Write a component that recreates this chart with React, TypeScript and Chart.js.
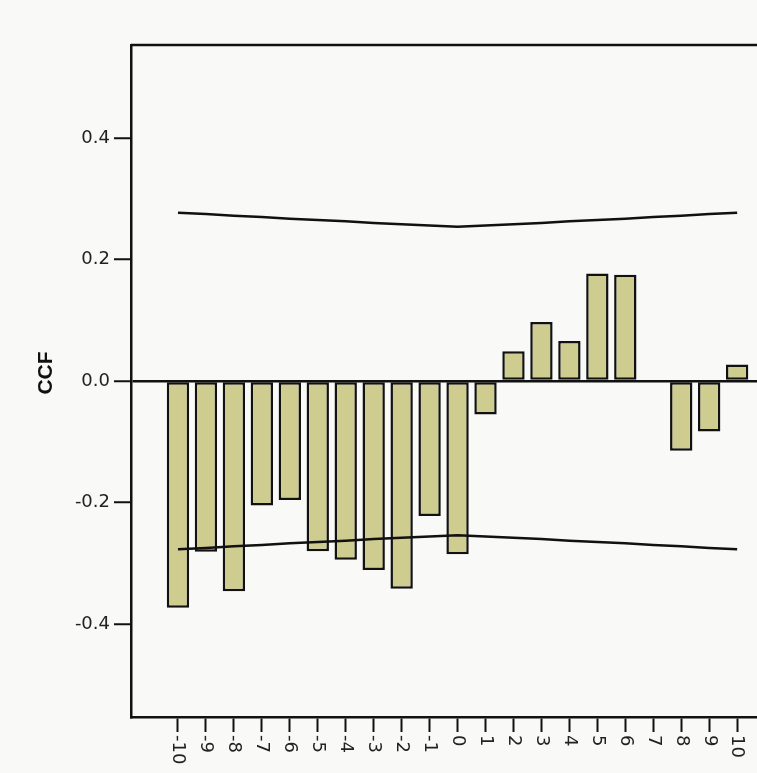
import { useEffect, useRef } from "react"
import { Chart, registerables } from "chart.js"

Chart.register(...registerables)

// lags shown on the x axis
const lags = [-10, -9, -8, -7, -6, -5, -4, -3, -2, -1, 0, 1, 2, 3, 4, 5, 6, 7, 8, 9, 10]
// cross-correlation coefficients
const ccfValues = [
  -0.373, -0.281, -0.346, -0.205, -0.196, -0.28, -0.294, -0.311, -0.342, -0.222, -0.285,
  -0.055, 0.049, 0.097, 0.066, 0.177, 0.175, 0.0, -0.115, -0.083, 0.027,
]
// confidence limits (upper / lower)
const upperLimit = [
  0.277, 0.275, 0.272, 0.27, 0.267, 0.265, 0.263, 0.26, 0.258, 0.256, 0.254,
  0.256, 0.258, 0.26, 0.263, 0.265, 0.267, 0.27, 0.272, 0.275, 0.277,
]
const lowerLimit = [
  -0.277, -0.275, -0.272, -0.27, -0.267, -0.265, -0.263, -0.26, -0.258, -0.256, -0.254,
  -0.256, -0.258, -0.26, -0.263, -0.265, -0.267, -0.27, -0.272, -0.275, -0.277,
]
const yTicks = [-0.4, -0.2, 0, 0.2, 0.4]

const labelFont = '18px "DejaVu Sans", sans-serif'

// frame top line, CCF title and x labels rotated clockwise, as in the original
const framePlugin = {
  id: "frame",
  afterDraw(chart: Chart) {
    const { ctx, chartArea } = chart
    const xScale = chart.scales.x
    ctx.save()
    ctx.strokeStyle = "#111"
    ctx.lineWidth = 2.5
    ctx.beginPath()
    ctx.moveTo(chartArea.left, chartArea.top)
    ctx.lineTo(chartArea.right, chartArea.top)
    ctx.stroke()

    ctx.fillStyle = "#222"
    ctx.font = labelFont
    ctx.textAlign = "left"
    ctx.textBaseline = "middle"
    lags.forEach((lag) => {
      const x = xScale.getPixelForValue(lag)
      ctx.save()
      ctx.translate(x, xScale.top + 18)
      ctx.rotate(Math.PI / 2)
      ctx.fillText(String(lag), 0, 0)
      ctx.restore()
    })

    ctx.save()
    ctx.translate(46, 373)
    ctx.rotate(-Math.PI / 2)
    ctx.font = 'bold 21px "Liberation Sans", Arial, sans-serif'
    ctx.fillStyle = "#111"
    ctx.textAlign = "center"
    ctx.fillText("CCF", 0, 0)
    ctx.restore()
    ctx.restore()
  },
}

export default function App() {
  const chartRef = useRef<HTMLCanvasElement>(null)
  const chartInstance = useRef<Chart | null>(null)

  useEffect(() => {
    if (!chartRef.current) return
    if (chartInstance.current) chartInstance.current.destroy()
    const ctx = chartRef.current.getContext("2d")
    if (!ctx) return

    chartInstance.current = new Chart(ctx, {
      type: "bar",
      data: {
        datasets: [
          {
            type: "line",
            label: "Upper limit",
            data: lags.map((x, i) => ({ x, y: upperLimit[i] })),
            borderColor: "#111",
            borderWidth: 2.5,
            pointRadius: 0,
            tension: 0,
            order: 0,
          },
          {
            type: "line",
            label: "Lower limit",
            data: lags.map((x, i) => ({ x, y: lowerLimit[i] })),
            borderColor: "#111",
            borderWidth: 2.5,
            pointRadius: 0,
            tension: 0,
            order: 0,
          },
          {
            type: "bar",
            label: "Coefficient",
            data: lags.map((x, i) => ({ x, y: ccfValues[i] })),
            backgroundColor: "#cfcc90",
            borderColor: "#111",
            borderWidth: 2.5,
            borderSkipped: false,
            barPercentage: 0.8,
            categoryPercentage: 1,
            order: 1,
          },
        ],
      },
      options: {
        responsive: true,
        maintainAspectRatio: false,
        animation: false,
        layout: { padding: { top: 45, right: 0, bottom: 0, left: 0 } },
        plugins: {
          legend: { display: false },
          tooltip: { enabled: false },
        },
        scales: {
          x: {
            type: "linear",
            min: -11.68,
            max: 10.71,
            offset: false,
            afterBuildTicks: (scale: any) => {
              scale.ticks = lags.map((v) => ({ value: v }))
            },
            afterFit: (scale: any) => {
              scale.height = 56
            },
            ticks: { display: false },
            grid: {
              offset: false,
              drawOnChartArea: false,
              drawTicks: true,
              tickLength: 15,
              tickColor: "#111",
              tickWidth: 2,
            },
            border: { display: true, color: "#111", width: 2.5 },
          },
          y: {
            min: -0.553,
            max: 0.553,
            afterBuildTicks: (scale: any) => {
              scale.ticks = yTicks.map((v) => ({ value: v }))
            },
            afterFit: (scale: any) => {
              scale.width = 131
            },
            ticks: {
              color: "#222",
              padding: 4,
              font: { family: '"DejaVu Sans", sans-serif', size: 18 },
              callback: (v: any) => Number(v).toFixed(1),
            },
            grid: {
              drawTicks: true,
              tickLength: 17,
              tickColor: "#111",
              tickWidth: 2,
              lineWidth: 2.5,
              color: (c: any) => (c.tick && c.tick.value === 0 ? "#111" : "rgba(0,0,0,0)"),
            },
            border: { display: true, color: "#111", width: 2.5 },
          },
        },
      },
      plugins: [framePlugin],
    })

    return () => {
      if (chartInstance.current) {
        chartInstance.current.destroy()
        chartInstance.current = null
      }
    }
  }, [])

  return (
    <div
      style={{
        position: "fixed",
        left: 0,
        top: 0,
        width: 757,
        height: 773,
        background: "#f9f9f7",
        overflow: "hidden",
      }}
    >
      <canvas ref={chartRef}></canvas>
    </div>
  )
}
